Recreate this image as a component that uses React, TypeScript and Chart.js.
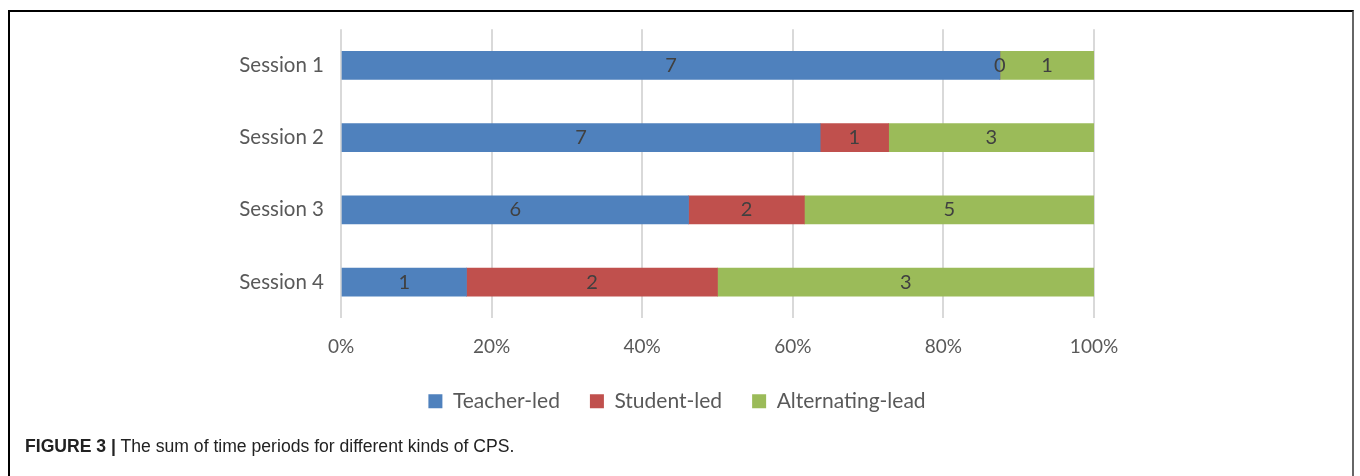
import React, { useEffect, useRef } from "react";
import { Chart, registerables } from "chart.js";

Chart.register(...registerables);

const categories = ["Session 1", "Session 2", "Session 3", "Session 4"];
const seriesNames = ["Teacher-led", "Student-led", "Alternating-lead"];
const teacherLed = [7, 7, 6, 1];
const studentLed = [0, 1, 2, 2];
const alternatingLead = [1, 3, 5, 3];
const seriesColors = ["#4F81BD", "#C0504D", "#9BBB59"];
const tickLabels = ["0%", "20%", "40%", "60%", "80%", "100%"];

const FONT = "Lato, 'Open Sans', sans-serif";

const labelPlugin = {
  id: "segLabels",
  afterDatasetsDraw(chart: any) {
    const ctx = chart.ctx;
    ctx.save();
    ctx.font = `20px ${FONT}`;
    ctx.fillStyle = "#404040";
    ctx.textAlign = "center";
    ctx.textBaseline = "middle";
    chart.data.datasets.forEach((ds: any, di: number) => {
      const meta = chart.getDatasetMeta(di);
      meta.data.forEach((bar: any, i: number) => {
        const raw = ds.raw[i];
        const x = (bar.x + bar.base) / 2;
        ctx.fillText(String(raw), x, bar.y);
      });
    });
    ctx.restore();
  },
};

export default function App() {
  const ref = useRef<HTMLCanvasElement>(null);
  useEffect(() => {
    const totals = categories.map((_, i) => teacherLed[i] + studentLed[i] + alternatingLead[i]);
    const raws = [teacherLed, studentLed, alternatingLead];
    const chart = new Chart(ref.current!, {
      type: "bar",
      data: {
        labels: categories,
        datasets: raws.map((r, k) => ({
          label: seriesNames[k],
          data: r.map((v, i) => (v / totals[i]) * 100),
          raw: r,
          backgroundColor: seriesColors[k],
          borderWidth: 0,
          barThickness: 28,
        })) as any,
      },
      options: {
        indexAxis: "y",
        responsive: false,
        animation: false,
        layout: { padding: { left: 0, right: 6, top: 27, bottom: 54.3 } },
        plugins: {
          legend: {
            position: "bottom",
            labels: {
              boxWidth: 14,
              boxHeight: 14,
              padding: 30,
              color: "#595959",
              font: { family: FONT, size: 21 },
            },
          },
          tooltip: { enabled: false },
        },
        scales: {
          x: {
            stacked: true,
            min: 0,
            max: 100,
            ticks: {
              stepSize: 20,
              padding: 17,
              color: "#595959",
              font: { family: FONT, size: 19 },
              callback: (_v: any, i: number) => tickLabels[i],
            },
            grid: { color: "#D9D9D9", lineWidth: 2, drawTicks: false },
            border: { display: false },
            afterFit: (s: any) => {
              s.height = 42.5;
            },
          },
          y: {
            stacked: true,
            ticks: {
              padding: 17,
              color: "#595959",
              font: { family: FONT, size: 20.5 },
            },
            grid: { display: false, drawTicks: false },
            border: { display: false },
            afterFit: (s: any) => {
              s.width = 341;
            },
          },
          yRight: {
            type: "category",
            position: "right",
            labels: categories,
            ticks: { display: false },
            grid: { display: false, drawTicks: false },
            border: { display: false },
            afterFit: (s: any) => {
              s.width = 260;
            },
          },
        },
      },
      plugins: [labelPlugin],
    } as any);
    return () => chart.destroy();
  }, []);

  return (
    <div style={{ position: "absolute", left: 0, top: 0, width: 1360, height: 476, background: "#fff", overflow: "hidden" }}>
      <div
        style={{
          position: "absolute",
          left: 8,
          top: 10,
          width: 1346,
          height: 500,
          borderTop: "2px solid #000",
          borderLeft: "2px solid #000",
          borderRight: "2px solid #666",
          boxSizing: "border-box",
        }}
      />
      <canvas ref={ref} width={1360} height={476} style={{ position: "absolute", left: 0, top: 0 }} />
      <div
        style={{
          position: "absolute",
          left: 25,
          top: 436,
          fontFamily: "'Liberation Sans', Arial, sans-serif",
          fontSize: 17.6,
          color: "#222",
          whiteSpace: "nowrap",
        }}
      >
        <b>FIGURE 3 |</b> The sum of time periods for different kinds of CPS.
      </div>
    </div>
  );
}
